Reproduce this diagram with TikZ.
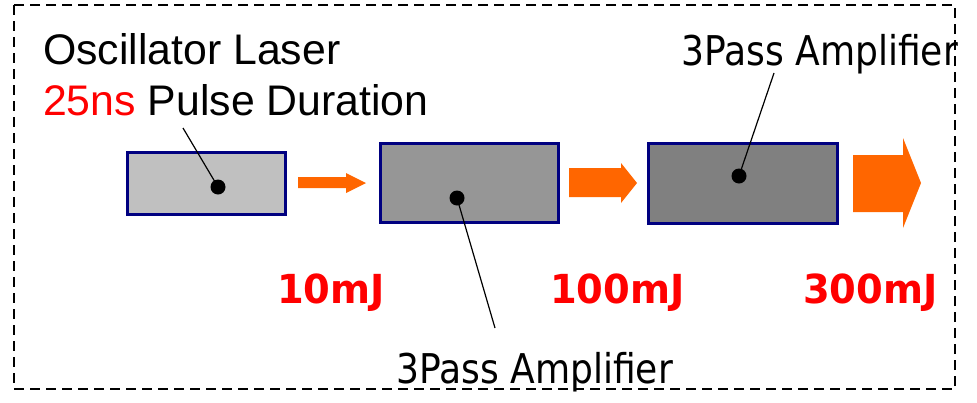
\documentclass[tikz,border=0pt]{standalone}
\usepackage{fontspec}
\setmainfont{Liberation Sans}
\newfontfamily\ampfont[FakeStretch=0.88]{DejaVu Sans}
\newfontfamily\mjfont[FakeStretch=0.96]{DejaVu Sans}
\definecolor{boxnavy}{HTML}{000080}
\definecolor{beamorange}{HTML}{FF6600}
\definecolor{labelred}{HTML}{FF0000}
\definecolor{grayA}{HTML}{C0C0C0}
\definecolor{grayB}{HTML}{969696}
\definecolor{grayC}{HTML}{808080}
\begin{document}
\begin{tikzpicture}[x=1pt,y=-1pt,
  stage/.style={draw=boxnavy, line width=3pt, inner sep=0pt, outer sep=0pt, rectangle},
  pin/.style={circle, fill=black, inner sep=0pt, minimum size=15pt},
  leader/.style={draw=black, line width=1.2pt},
  titletext/.style={anchor=base west, inner sep=0pt, font=\fontsize{42.8}{50}\selectfont},
  amptext/.style={anchor=base west, inner sep=0pt, font=\ampfont\fontsize{41}{50}\selectfont},
  energy/.style={anchor=base west, inner sep=0pt, text=labelred, font=\mjfont\bfseries\fontsize{40}{48}\selectfont},
  beam/.style={fill=beamorange, draw=none}]
\useasboundingbox (0,0) rectangle (977,402);
\draw[line width=1.6pt, dash pattern=on 10pt off 6pt] (14,5) rectangle (955,389);

% stages
\node[stage, fill=grayA, minimum width=158pt, minimum height=62pt] (osc) at (206.5,183.5) {};
\node[stage, fill=grayB, minimum width=178pt, minimum height=79pt] (ampA) at (469.5,183) {};
\node[stage, fill=grayC, minimum width=189pt, minimum height=80pt] (ampB) at (743,183.5) {};

% beams
\fill[beam] (298,177) -- (346,177) -- (346,173) -- (366,183) -- (346,193) -- (346,188) -- (298,188) -- cycle;
\fill[beam] (569,168) -- (621,168) -- (621,163) -- (637,183) -- (621,203) -- (621,197) -- (569,197) -- cycle;
\fill[beam] (853,155) -- (903,155) -- (903,138) -- (921,183) -- (903,228) -- (903,212) -- (853,212) -- cycle;

% pins and leaders
\node[pin] (pinA) at (218,187) {};
\node[pin] (pinB) at (457,198) {};
\node[pin] (pinC) at (739,176) {};
\coordinate (endA) at (183,128);
\coordinate (endB) at (495,328);
\coordinate (endC) at (774,73);
\draw[leader] (pinA.center) -- (endA);
\draw[leader] (pinB.center) -- (endB);
\draw[leader] (pinC.center) -- (endC);

% texts
\node[titletext] (t1) at (43,64) {Oscillator Laser};
\node[titletext] (t2) at (43,115) {\textcolor{labelred}{25ns} Pulse Duration};
\node[amptext] (t3) at (681,65) {3Pass Amplifier};
\node[amptext] (t4) at (396,383) {3Pass Amplifier};
\node[energy] (e1) at (277,303) {10mJ};
\node[energy] (e2) at (550,303) {100mJ};
\node[energy] (e3) at (803,303) {300mJ};
\end{tikzpicture}
\end{document}
